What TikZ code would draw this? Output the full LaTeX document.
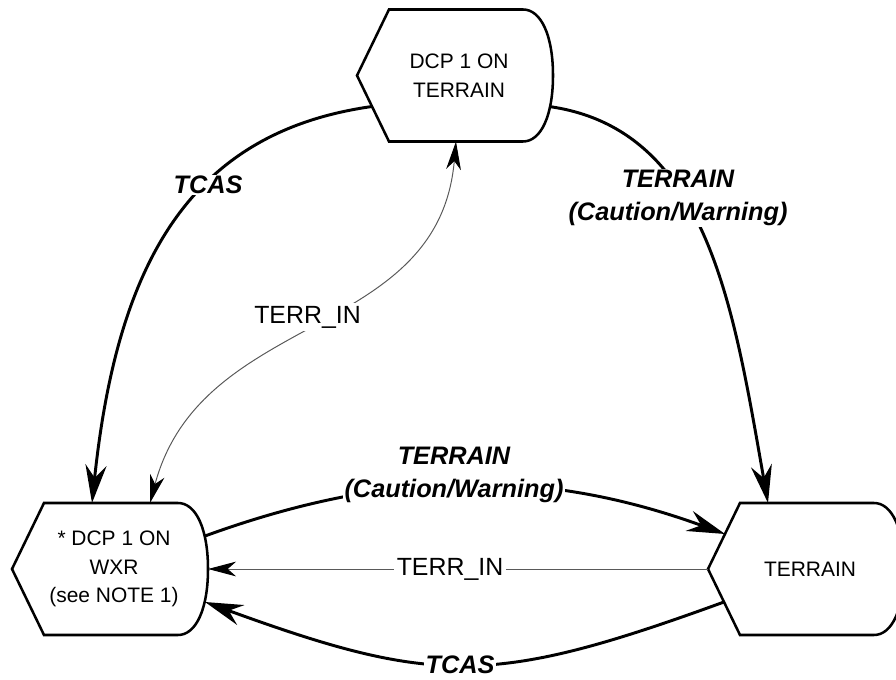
\documentclass[tikz,border=0pt]{standalone}
\usepackage{fontspec}
\setmainfont{Liberation Sans}
\usetikzlibrary{arrows.meta}
\tikzset{
  smalltip/.tip={Stealth[length=20pt,width=10.5pt,inset=6pt,color=black]},
  bigtip/.tip={Stealth[length=27pt,width=15pt,inset=9pt]},
  state/.style={align=center, inner sep=0pt, font=\fontsize{14.9}{20.5}\selectfont},
  outline/.style={line width=1.8pt},
  trans/.style={line width=2.1pt, -{bigtip}},
  terrline/.style={line width=0.7pt, draw=black!65},
  cond/.style={fill=white, inner sep=1pt, align=center, font=\fontsize{18}{23.2}\selectfont\bfseries\itshape},
  sig/.style={fill=white, inner sep=2pt, font=\fontsize{17.7}{21}\selectfont}
}

\begin{document}
\begin{tikzpicture}[x=0.025cm, y=0.025cm]
  \useasboundingbox (0,0) rectangle (896,679);
  \node[state] (top) at (459,603.5) {DCP 1 ON\\TERRAIN};
  \node[state] (wxr) at (114,110) {* DCP 1 ON\\WXR\\(see NOTE 1)};
  \node[state] (terr) at (810,110) {TERRAIN};
  \foreach \s in {top,wxr,terr} {
    \begin{scope}[shift={(\s.center)}]
      \draw[outline] (-102,0) -- (-70,66) -- (64,66)
        .. controls (82,66) and (94,40) .. (94,0)
        .. controls (94,-40) and (82,-66) .. (64,-66) -- (-70,-66) -- cycle;
    \end{scope}
  }
  % transitions
  \draw[trans] ([shift={(-87,-31)}]top.center) .. controls +(188:185) and +(84:240) .. ([shift={(-22,66)}]wxr.center);
  \draw[trans] ([shift={(90,-31)}]top.center) .. controls +(-8:160) and +(100:200) .. ([shift={(-42,66)}]terr.center);
  \draw[trans] ([shift={(91,33)}]wxr.center) .. controls +(20:195) and +(160:195) .. ([shift={(-85,35)}]terr.center);
  \draw[trans] ([shift={(-86,-33)}]terr.center) .. controls +(200:245) and +(-20:245) .. ([shift={(91,-33)}]wxr.center);
  \draw[terrline, -{smalltip}] ([shift={(-102,0)}]terr.center) -- ([shift={(94,0)}]wxr.center);
  \draw[terrline, {smalltip}-{smalltip}] ([shift={(36,66)}]wxr.center) .. controls +(75:200) and +(265:200) .. ([shift={(-3,-66)}]top.center);
  % labels
  \node[cond] (tcasl) at (208,494) {TCAS};
  \node[cond] (terrr) at (678,481) {TERRAIN\\(Caution/Warning)};
  \node[cond] (terrm) at (454,204) {TERRAIN\\(Caution/Warning)};
  \node[cond] (tcasb) at (460,14) {TCAS};
  \node[sig] (inl) at (307.5,362) {TERR\_IN};
  \node[sig] (inb) at (450,110) {TERR\_IN};
\end{tikzpicture}
\end{document}
